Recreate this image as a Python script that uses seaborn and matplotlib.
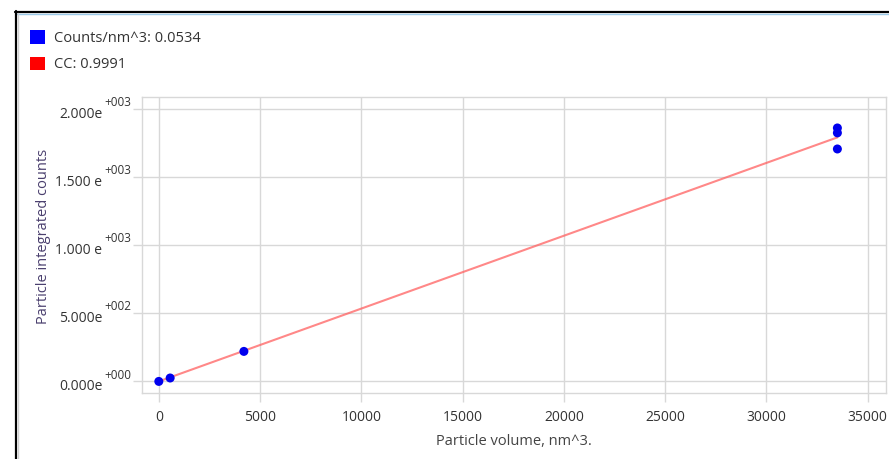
import numpy as np
import pandas as pd
import matplotlib
matplotlib.use("Agg")
import matplotlib.pyplot as plt
import matplotlib.transforms as mtransforms
import seaborn as sns
from matplotlib.lines import Line2D
from matplotlib.patches import Patch

# values
volume = [0, 560, 4200, 33500, 33500, 33500]
counts = [0, 25, 220, 1858, 1822, 1704]
slope = 0.0534
cc = 0.9991
x_ticks = [0, 5000, 10000, 15000, 20000, 25000, 30000, 35000]
y_ticks = [0, 500, 1000, 1500, 2000]
y_tick_mantissa = ["0.000e", "5.000e", "1.000 e", "1.500 e", "2.000e"]
y_tick_exp = ["+000", "+002", "+003", "+003", "+003"]

sns.set_style("white")
plt.rcParams["font.family"] = ["Open Sans", "DejaVu Sans"]

df = pd.DataFrame({"volume": volume, "counts": counts})
fit_x = np.array([0, max(volume)])
fit = pd.DataFrame({"volume": fit_x, "counts": slope * fit_x})

fig = plt.figure(figsize=(8.89, 4.59), dpi=100)
ax = fig.add_axes([142 / 889, 1 - 393 / 459, 744 / 889, 296 / 459])

grid_c = "#d8d8d8"
txt_c = "#333333"
sns.lineplot(data=fit, x="volume", y="counts", ax=ax, color="#ff6060",
             alpha=0.75, linewidth=1.5, zorder=2)
sns.scatterplot(data=df, x="volume", y="counts", ax=ax, color="#0000ee",
                s=42, edgecolor="none", zorder=3)

ax.set_xlim(-830, 35900)
ax.set_ylim(-85, 2085)
ax.set_xticks(x_ticks)
ax.set_xticklabels([str(t) for t in x_ticks])
ax.set_yticks(y_ticks)
ax.set_yticklabels(y_tick_mantissa)
ax.grid(True, color=grid_c, linewidth=1)
ax.set_axisbelow(True)
for s in ax.spines.values():
    s.set_color(grid_c)
    s.set_linewidth(1)
ax.tick_params(axis="both", length=6.5, width=1, color=grid_c,
               labelcolor=txt_c, labelsize=10, direction="out",
               bottom=True, left=True)
ax.tick_params(axis="x", pad=5.5)
ax.tick_params(axis="y", pad=22)
for lbl in ax.get_yticklabels():
    lbl.set_va("center")
    lbl.set_transform(lbl.get_transform() + mtransforms.ScaledTranslation(0, -4 / 72, fig.dpi_scale_trans))

# exponent parts of the y tick labels, drawn as superscripts
trans = mtransforms.blended_transform_factory(ax.transAxes, ax.transData)
for yv, ex in zip(y_ticks, y_tick_exp):
    ax.annotate(ex, xy=(0, yv), xycoords=trans, xytext=(-27, 4.5),
                textcoords="offset points", ha="left", va="center",
                fontsize=8.5, color=txt_c, annotation_clip=False)

ax.set_xlabel("Particle volume, nm^3.", fontsize=10.5, color="#444444")
ax.xaxis.set_label_coords(0.5, -0.138)
ax.set_ylabel("Particle integrated counts", fontsize=10.5, color="#4a3f6e")
ax.yaxis.set_label_coords(-0.122, 0.53)

# legend in the upper left corner
handles = [Patch(facecolor="#0000ff", edgecolor="none"),
           Patch(facecolor="#ff0000", edgecolor="none")]
labels = [f"Counts/nm^3: {slope}", f"CC: {cc}"]
fig.legend(handles, labels, loc="upper left", bbox_to_anchor=(30 / 889, 1 - 30 / 459),
           frameon=False, fontsize=10.5, handlelength=1.0, handleheight=1.05,
           handletextpad=0.65, labelspacing=0.75, borderaxespad=0, borderpad=0,
           labelcolor=txt_c)

# window frame lines
fig.add_artist(Line2D([15 / 889, 1], [1 - 11.5 / 459, 1 - 11.5 / 459], color="black", linewidth=1.6))
fig.add_artist(Line2D([17 / 889, 1], [1 - 13.5 / 459, 1 - 13.5 / 459], color="#9ccbea", linewidth=1))
fig.add_artist(Line2D([15.5 / 889, 15.5 / 889], [0, 1 - 11 / 459], color="black", linewidth=1.6))
fig.add_artist(Line2D([17.5 / 889, 17.5 / 889], [0, 1 - 13 / 459], color="#d0d0d0", linewidth=1))

fig.savefig("out.png", dpi=100)
